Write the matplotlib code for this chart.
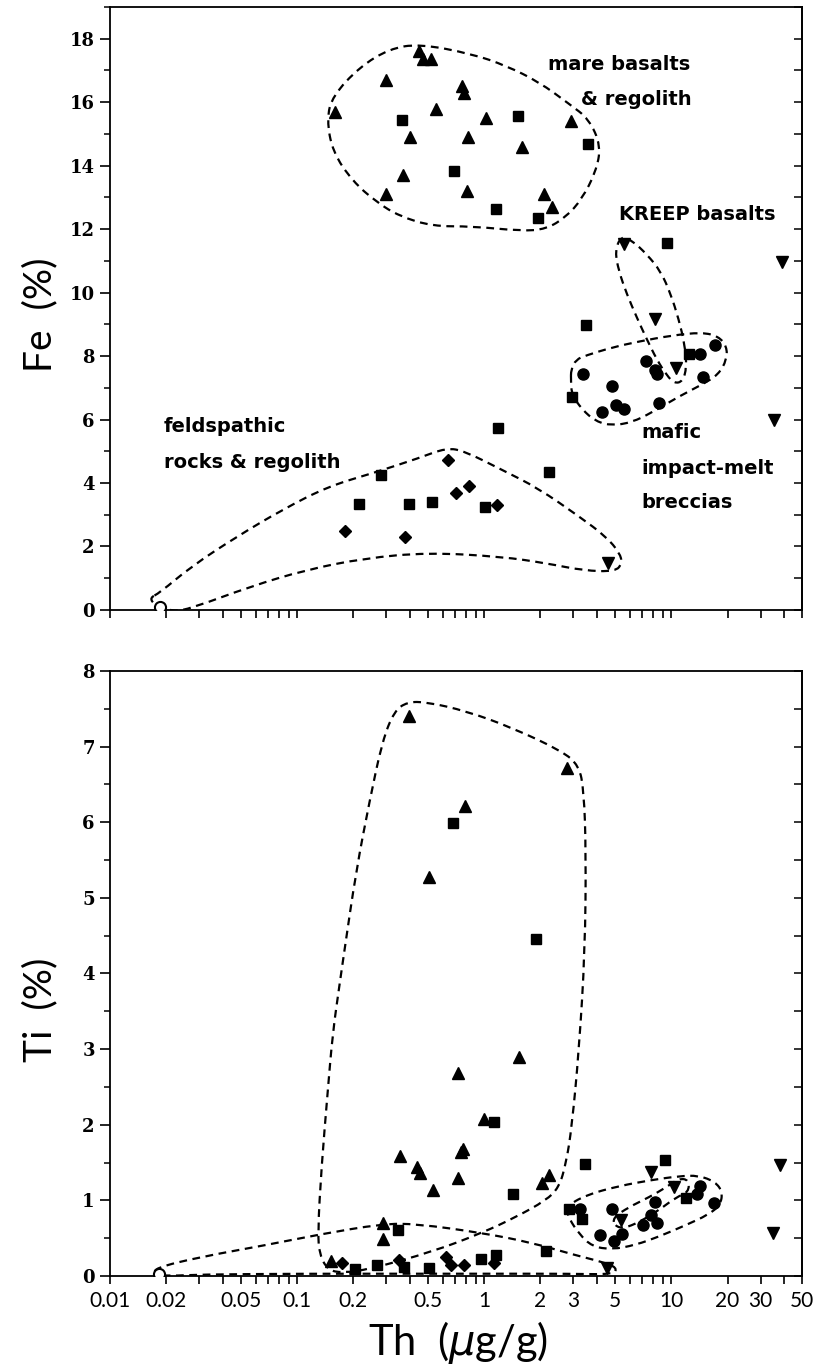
import numpy as np
import matplotlib
matplotlib.use('Agg')
import matplotlib.pyplot as plt
from matplotlib.path import Path
from matplotlib.patches import PathPatch
from matplotlib.ticker import FixedLocator, LogLocator, MultipleLocator, NullFormatter

# ---- top panel: Fe vs Th ----
fe_tri_th = [0.45, 0.47, 0.52, 0.30, 0.16, 0.55, 0.40, 0.37, 0.30, 0.76, 0.78, 1.02, 2.90, 0.815, 1.60, 0.805, 2.09, 2.30]
fe_tri_fe = [17.6, 17.35, 17.35, 16.7, 15.7, 15.8, 14.9, 13.7, 13.1, 16.5, 16.3, 15.5, 15.4, 14.9, 14.6, 13.2, 13.1, 12.7]
fe_sq_th = [0.362, 0.692, 1.51, 3.60, 1.15, 1.94, 9.5, 3.49, 12.4, 2.94, 1.18, 0.282, 2.22, 0.213, 0.395, 0.526, 1.01]
fe_sq_fe = [15.45, 13.84, 15.56, 14.68, 12.63, 12.35, 11.55, 8.97, 8.08, 6.70, 5.74, 4.26, 4.34, 3.35, 3.35, 3.40, 3.24]
fe_ci_th = [3.37, 4.83, 4.24, 5.04, 5.58, 7.34, 8.17, 8.4, 8.58, 14.3, 17.2, 14.8]
fe_ci_fe = [7.44, 7.05, 6.24, 6.47, 6.34, 7.86, 7.56, 7.42, 6.53, 8.05, 8.34, 7.35]
fe_inv_th = [5.58, 39.0, 8.17, 10.6, 35.2, 4.6]
fe_inv_fe = [11.53, 10.97, 9.18, 7.63, 5.98, 1.49]
fe_dia_th = [0.637, 0.705, 0.825, 1.17, 0.181, 0.376]
fe_dia_fe = [4.72, 3.68, 3.92, 3.30, 2.49, 2.31]
fe_open_th = [0.0185]
fe_open_fe = [0.1]

# ---- bottom panel: Ti vs Th ----
ti_tri_th = [0.395, 2.78, 0.792, 0.509, 0.721, 1.54, 1.0, 0.766, 0.749, 0.357, 0.437, 0.456, 0.53, 0.721, 2.22, 2.03, 0.287, 0.287, 0.152]
ti_tri_ti = [7.41, 6.72, 6.22, 5.28, 2.68, 2.89, 2.08, 1.68, 1.64, 1.59, 1.44, 1.36, 1.14, 1.30, 1.33, 1.23, 0.70, 0.49, 0.20]
ti_sq_th = [0.678, 1.89, 1.13, 3.46, 1.43, 0.348, 9.31, 12.0, 2.84, 3.34, 2.13, 0.96, 1.15, 0.505, 0.205, 0.268, 0.374]
ti_sq_ti = [5.99, 4.46, 2.03, 1.48, 1.08, 0.61, 1.54, 1.03, 0.89, 0.76, 0.33, 0.23, 0.28, 0.11, 0.09, 0.145, 0.12]
ti_ci_th = [3.25, 4.8, 4.14, 5.47, 4.93, 8.17, 7.83, 8.4, 7.05, 14.3, 13.8, 16.9]
ti_ci_ti = [0.89, 0.88, 0.54, 0.56, 0.46, 0.98, 0.80, 0.70, 0.68, 1.19, 1.08, 0.97]
ti_inv_th = [7.83, 38.2, 10.4, 5.41, 34.8, 4.55]
ti_inv_ti = [1.38, 1.47, 1.18, 0.74, 0.57, 0.10]
ti_dia_th = [1.13, 0.625, 0.664, 0.78, 0.173, 0.352]
ti_dia_ti = [0.17, 0.25, 0.15, 0.15, 0.17, 0.21]
ti_open_th = [0.0183]
ti_open_ti = [0.02]

# ---- field outlines (Th, value) ----
mare_fe_th = [0.45, 0.863, 1.31, 1.96, 2.84, 3.63, 4.21, 3.95, 3.33, 2.74, 2.14, 1.60, 0.863, 0.528, 0.352, 0.266, 0.198, 0.155, 0.144, 0.155, 0.216, 0.311]
mare_fe_v = [17.84, 17.52, 17.15, 16.64, 15.95, 15.47, 14.62, 13.80, 12.95, 12.38, 12.0, 11.94, 12.09, 12.09, 12.41, 12.85, 13.51, 14.43, 15.47, 16.2, 17.11, 17.68]
kreep_fe_th = [5.38, 6.15, 7.40, 8.79, 9.94, 10.96, 11.8, 12.1, 11.5, 10.4, 9.47, 8.37, 7.40, 6.54, 5.79, 5.25, 5.0]
kreep_fe_v = [11.78, 11.65, 11.21, 10.67, 9.95, 9.16, 8.37, 7.64, 7.2, 7.14, 7.39, 7.89, 8.53, 9.22, 9.95, 10.67, 11.3]
mafic_fe_th = [2.91, 3.10, 3.50, 4.82, 6.71, 10.07, 14.6, 17.9, 19.8, 19.8, 17.9, 14.6, 11.0, 7.87, 6.15, 4.82, 3.95, 3.33, 2.94, 2.91]
mafic_fe_v = [7.58, 7.89, 8.02, 8.27, 8.46, 8.65, 8.75, 8.62, 8.3, 7.89, 7.42, 7.1, 6.73, 6.22, 5.91, 5.81, 5.94, 6.32, 6.79, 7.2]
feld_fe_th = [0.01834, 0.0272, 0.0476, 0.0835, 0.146, 0.257, 0.450, 0.629, 0.788, 1.24, 1.94, 3.21, 4.49, 5.31, 5.46, 5.03, 3.40, 2.16, 1.24, 0.502, 0.229, 0.111, 0.0564, 0.0272, 0.0217, 0.01734, 0.0163]
feld_fe_v = [0.53, 1.37, 2.31, 3.16, 3.89, 4.32, 4.79, 5.11, 5.0, 4.42, 3.84, 2.95, 2.31, 1.79, 1.47, 1.21, 1.24, 1.47, 1.68, 1.81, 1.63, 1.26, 0.74, 0.05, -0.05, 0.16, 0.38]

mare_ti_th = [0.388, 0.491, 0.802, 1.41, 2.61, 3.21, 3.41, 3.50, 3.46, 3.21, 2.94, 2.74, 2.51, 2.14, 1.48, 0.975, 0.528, 0.244, 0.175, 0.146, 0.132, 0.129, 0.135, 0.146, 0.155, 0.169, 0.179, 0.207, 0.244, 0.286, 0.331]
mare_ti_v = [7.59, 7.59, 7.47, 7.25, 6.94, 6.75, 6.42, 5.62, 4.30, 2.98, 1.97, 1.49, 1.17, 1.0, 0.78, 0.57, 0.32, 0.09, 0.04, 0.08, 0.28, 0.57, 1.44, 2.46, 3.21, 3.87, 4.30, 5.36, 6.28, 7.08, 7.47]
feld_ti_th = [0.01738, 0.0302, 0.0687, 0.132, 0.286, 0.434, 0.975, 1.80, 3.02, 4.37, 5.12, 4.93, 2.84, 1.2, 0.352, 0.103, 0.0302, 0.0209, 0.01738]
feld_ti_v = [0.106, 0.25, 0.41, 0.55, 0.69, 0.69, 0.57, 0.44, 0.28, 0.18, 0.11, 0.02, 0.03, 0.03, 0.03, 0.03, 0.02, 0.0, 0.02]
mafic_ti_th = [2.73, 3.49, 5.25, 7.9, 11.0, 14.0, 17.2, 18.8, 18.3, 15.8, 11.9, 8.58, 6.44, 4.82, 3.77, 3.21, 2.84]
mafic_ti_v = [0.915, 1.07, 1.19, 1.27, 1.32, 1.33, 1.245, 1.11, 0.94, 0.81, 0.67, 0.52, 0.41, 0.35, 0.39, 0.56, 0.76]
kreep_ti_th = [4.87, 5.93, 7.59, 9.36, 11.0, 12.4, 12.4, 10.6, 8.58, 6.71, 5.58, 5.0]
kreep_ti_v = [0.77, 0.91, 1.04, 1.17, 1.29, 1.27, 1.11, 1.04, 0.87, 0.71, 0.63, 0.66]

xtick_vals = [0.01, 0.02, 0.05, 0.1, 0.2, 0.5, 1, 2, 3, 5, 10, 20, 30, 50]
xtick_labels = ['0.01', '0.02', '0.05', '0.1', '0.2', '0.5', '1', '2', '3', '5', '10', '20', '30', '50']


def outline(ax, th, v):
    # closed smooth curve: vertices as control points, midpoints on the curve
    lx = np.log10(th)
    y = np.asarray(v, dtype=float)
    mx = (lx + np.roll(lx, -1)) / 2
    my = (y + np.roll(y, -1)) / 2
    verts = [(10 ** mx[-1], my[-1])]
    codes = [Path.MOVETO]
    for i in range(len(th)):
        verts += [(th[i], y[i]), (10 ** mx[i], my[i])]
        codes += [Path.CURVE3, Path.CURVE3]
    ax.add_patch(PathPatch(Path(verts, codes), fill=False, ec='black',
                           lw=1.6, ls=(0, (3.5, 2.5)), zorder=2))


def markers(ax, th, v, m, ms, **kw):
    ax.plot(th, v, ls='none', marker=m, ms=ms, color='black', zorder=3, **kw)


def style(ax, ymax, ymaj, ymin, labels):
    ax.set_xscale('log')
    ax.set_xlim(0.01, 50)
    ax.set_ylim(0, ymax)
    for s in ax.spines.values():
        s.set_linewidth(1.3)
    ax.xaxis.set_major_locator(FixedLocator(xtick_vals))
    ax.xaxis.set_minor_locator(LogLocator(base=10, subs=np.arange(1, 10)))
    ax.xaxis.set_minor_formatter(NullFormatter())
    if labels:
        ax.set_xticks(xtick_vals, xtick_labels, family='Lato', fontsize=15)
    else:
        ax.set_xticks(xtick_vals, [''] * len(xtick_vals))
    ax.tick_params(axis='x', which='both', direction='out', length=6, width=1.2,
                   top=False, pad=5)
    yt = np.arange(0, ymax + 0.01, ymaj)
    ax.set_yticks(yt, ['%d' % t for t in yt], family='DejaVu Serif',
                  fontweight='bold', fontsize=13)
    ax.yaxis.set_minor_locator(MultipleLocator(ymin))
    ax.tick_params(axis='y', which='major', direction='out', length=7, width=1.2,
                   right=False, pad=4)
    ax.tick_params(axis='y', which='minor', direction='out', length=4.5, width=1.1,
                   right=False)
    sec = ax.secondary_yaxis('right')
    sec.yaxis.set_major_locator(MultipleLocator(ymin))
    sec.tick_params(direction='in', length=5.5, width=1.1, labelright=False)
    sec.spines['right'].set_linewidth(1.3)


fig = plt.figure(figsize=(8.13, 13.71), dpi=100)
ax1 = fig.add_axes([0.1353, 0.5551, 0.8512, 0.4398])
ax2 = fig.add_axes([0.1353, 0.0693, 0.8512, 0.4413])

style(ax1, 19, 2, 1, False)
style(ax2, 8, 1, 0.5, True)

outline(ax1, mare_fe_th, mare_fe_v)
outline(ax1, kreep_fe_th, kreep_fe_v)
outline(ax1, mafic_fe_th, mafic_fe_v)
outline(ax1, feld_fe_th, feld_fe_v)
markers(ax1, fe_tri_th, fe_tri_fe, '^', 9)
markers(ax1, fe_sq_th, fe_sq_fe, 's', 7)
markers(ax1, fe_ci_th, fe_ci_fe, 'o', 8)
markers(ax1, fe_inv_th, fe_inv_fe, 'v', 9)
markers(ax1, fe_dia_th, fe_dia_fe, 'D', 6.5)
markers(ax1, fe_open_th, fe_open_fe, 'o', 8, mfc='white', mew=1.5)

outline(ax2, mare_ti_th, mare_ti_v)
outline(ax2, feld_ti_th, feld_ti_v)
outline(ax2, mafic_ti_th, mafic_ti_v)
outline(ax2, kreep_ti_th, kreep_ti_v)
markers(ax2, ti_tri_th, ti_tri_ti, '^', 9)
markers(ax2, ti_sq_th, ti_sq_ti, 's', 7)
markers(ax2, ti_ci_th, ti_ci_ti, 'o', 8)
markers(ax2, ti_inv_th, ti_inv_ti, 'v', 9)
markers(ax2, ti_dia_th, ti_dia_ti, 'D', 6.5)
markers(ax2, ti_open_th, ti_open_ti, 'o', 8, mfc='white', mew=1.5)

# field names
afont = dict(family='DejaVu Sans', fontsize=14, fontweight='bold', color='black')
ax1.text(5.25, 17.2, 'mare basalts', ha='center', va='center', **afont)
ax1.text(6.47, 16.1, '& regolith', ha='center', va='center', **afont)
ax1.text(13.7, 12.47, 'KREEP basalts', ha='center', va='center', **afont)
ax1.text(0.0194, 5.78, 'feldspathic', ha='left', va='center', **afont)
ax1.text(0.0194, 4.64, 'rocks & regolith', ha='left', va='center', **afont)
ax1.text(6.96, 5.59, 'mafic', ha='left', va='center', **afont)
ax1.text(6.96, 4.45, 'impact-melt', ha='left', va='center', **afont)
ax1.text(6.96, 3.38, 'breccias', ha='left', va='center', **afont)

fig.text(40 / 813, 1 - 315 / 1371, 'Fe  (%)', rotation=90, ha='center', va='center',
         family='Lato', fontsize=28)
fig.text(40 / 813, 1 - 1010 / 1371, 'Ti  (%)', rotation=90, ha='center', va='center',
         family='Lato', fontsize=28)
fig.text(458 / 813, 1 - 1342 / 1371, r'Th  ($\mu$g/g)', ha='center', va='center',
         family='Lato', fontsize=30)

fig.savefig('out.png', dpi=100)
